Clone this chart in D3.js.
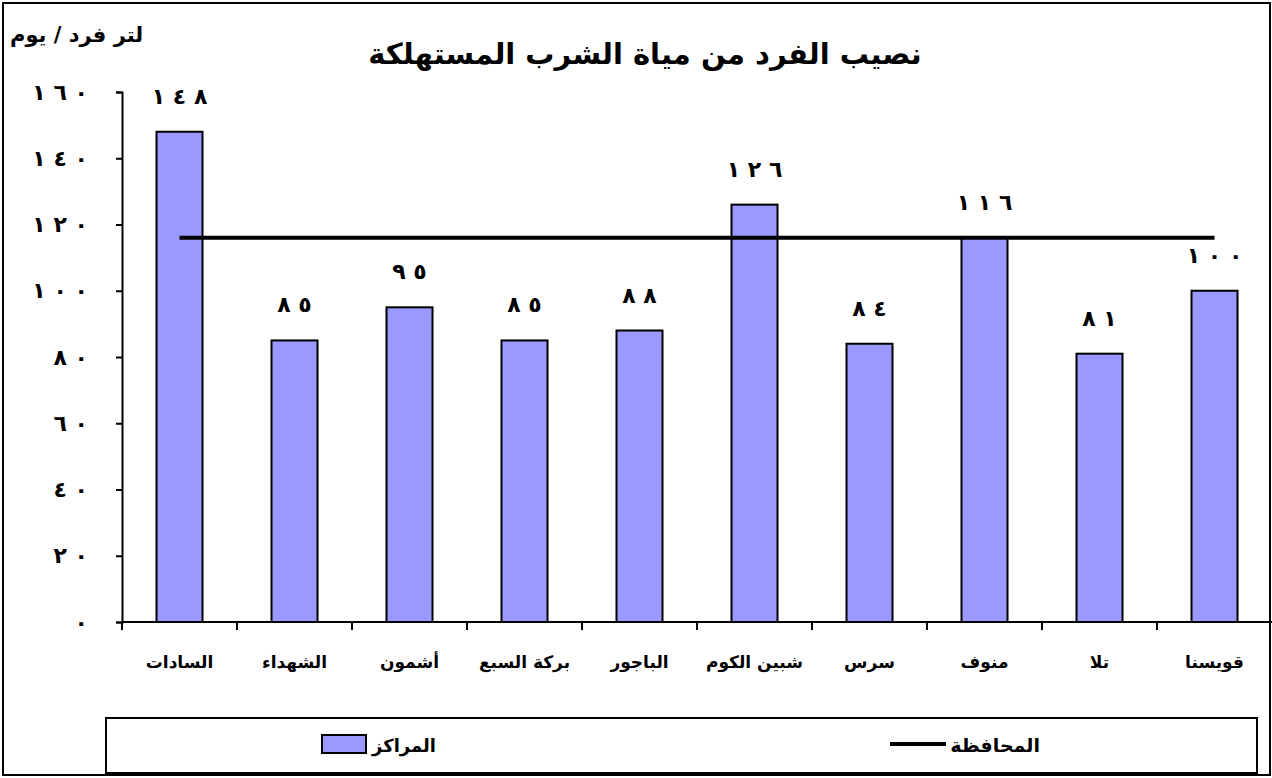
<!DOCTYPE html>
<html lang="ar">
<head>
<meta charset="utf-8">
<script src="https://cdn.jsdelivr.net/npm/d3@7"></script>
<style>
  body { margin: 0; background: #fff; }
  text { font-family: "DejaVu Sans", sans-serif; font-weight: bold; fill: #000; }
</style>
</head>
<body>
<div id="chart"></div>
<script>
// data
const districts = ["السادات", "الشهداء", "أشمون", "بركة السبع", "الباجور", "شبين الكوم", "سرس", "منوف", "تلا", "قويسنا"]
const districtValues = [148, 85, 95, 85, 88, 126, 84, 116, 81, 100]
const governorateValue = 116
const yTicks = [0, 20, 40, 60, 80, 100, 120, 140, 160]
const chartTitle = "نصيب الفرد من مياة الشرب المستهلكة"
const yTitle = "لتر فرد / يوم"
const legendBars = "المراكز"
const legendLine = "المحافظة"

// western digits -> spaced arabic-indic (LRM keeps the order left to right)
const arDigits = "٠١٢٣٤٥٦٧٨٩"
function toArabic(n) {
    return String(n).split("").map(d => arDigits[+d]).join("\u200E ")
}

const W = 1272, H = 778
const margin = {top: 92, right: 0, bottom: 156, left: 122}
const width = W - margin.left - margin.right
const height = H - margin.top - margin.bottom

const svg = d3.select("#chart").append("svg")
    .attr("width", W)
    .attr("height", H)

// outer frame
svg.append("rect")
    .attr("x", 3).attr("y", 3)
    .attr("width", W - 5).attr("height", H - 6)
    .attr("fill", "none").attr("stroke", "#000").attr("stroke-width", 2)

svg.append("text")
    .attr("x", 645).attr("y", 64)
    .attr("text-anchor", "middle")
    .attr("direction", "rtl")
    .style("font-size", "29px")
    .text(chartTitle)

svg.append("text")
    .attr("x", 10).attr("y", 42)
    .attr("text-anchor", "start")
    .style("font-size", "21px")
    .text(yTitle)

const g = svg.append("g")
    .attr("transform", `translate(${margin.left},${margin.top})`)

const x = d3.scaleBand().domain(districts).range([0, width]).paddingInner(0.6).paddingOuter(0.3)
const xStep = d3.scaleBand().domain(districts).range([0, width])
const y = d3.scaleLinear().domain([0, 160]).range([height, 0])

// y axis
const yAxis = d3.axisLeft(y).tickValues(yTicks).tickSize(6).tickSizeOuter(6).tickPadding(28)
    .tickFormat(toArabic)
const yG = g.append("g").attr("class", "y-axis").call(yAxis)
yG.selectAll("path, line").attr("stroke", "#000").attr("stroke-width", 2)
yG.selectAll("text")
    .style("font-size", "22px")

// bars
g.selectAll(".bar")
    .data(districts)
    .join("rect")
    .attr("class", "bar")
    .attr("x", d => x(d))
    .attr("width", x.bandwidth())
    .attr("y", (d, i) => y(districtValues[i]))
    .attr("height", (d, i) => height - y(districtValues[i]))
    .attr("fill", "#9999ff")
    .attr("stroke", "#000")
    .attr("stroke-width", 2)

// value labels
g.selectAll(".val")
    .data(districts)
    .join("text")
    .attr("class", "val")
    .attr("x", d => x(d) + x.bandwidth() / 2)
    .attr("y", (d, i) => y(districtValues[i]) - 28)
    .attr("text-anchor", "middle")
    .style("font-size", "22px")
    .text((d, i) => toArabic(districtValues[i]))

// governorate line
g.append("path")
    .datum(districts)
    .attr("fill", "none")
    .attr("stroke", "#000")
    .attr("stroke-width", 4)
    .attr("d", d3.line()
        .x(d => x(d) + x.bandwidth() / 2)
        .y(() => y(governorateValue)))

// x axis: boundary ticks + labels
const xG = g.append("g").attr("class", "x-axis")
    .attr("transform", `translate(0,${height})`)
xG.append("line")
    .attr("x1", 0).attr("x2", width)
    .attr("stroke", "#000").attr("stroke-width", 2)
xG.selectAll(".tick")
    .data(districts)
    .join("line")
    .attr("class", "tick")
    .attr("x1", d => xStep(d)).attr("x2", d => xStep(d))
    .attr("y1", 0).attr("y2", 8)
    .attr("stroke", "#000").attr("stroke-width", 2)
xG.selectAll(".lbl")
    .data(districts)
    .join("text")
    .attr("class", "lbl")
    .attr("x", d => x(d) + x.bandwidth() / 2)
    .attr("y", 46)
    .attr("text-anchor", "middle")
    .attr("direction", "rtl")
    .style("font-size", "17px")
    .text(d => d)

// legend
const leg = svg.append("g")
leg.append("rect")
    .attr("x", 106).attr("y", 718)
    .attr("width", 1151).attr("height", 55)
    .attr("fill", "#fff").attr("stroke", "#000").attr("stroke-width", 2)
leg.append("rect")
    .attr("x", 322).attr("y", 735)
    .attr("width", 44).attr("height", 18)
    .attr("fill", "#9999ff").attr("stroke", "#000").attr("stroke-width", 2)
leg.append("text")
    .attr("x", 436).attr("y", 752)
    .attr("text-anchor", "start")
    .attr("direction", "rtl")
    .style("font-size", "18px")
    .text(legendBars)
leg.append("line")
    .attr("x1", 890).attr("x2", 946)
    .attr("y1", 744).attr("y2", 744)
    .attr("stroke", "#000").attr("stroke-width", 4)
leg.append("text")
    .attr("x", 1040).attr("y", 752)
    .attr("text-anchor", "start")
    .attr("direction", "rtl")
    .style("font-size", "19px")
    .text(legendLine)
</script>
</body>
</html>
